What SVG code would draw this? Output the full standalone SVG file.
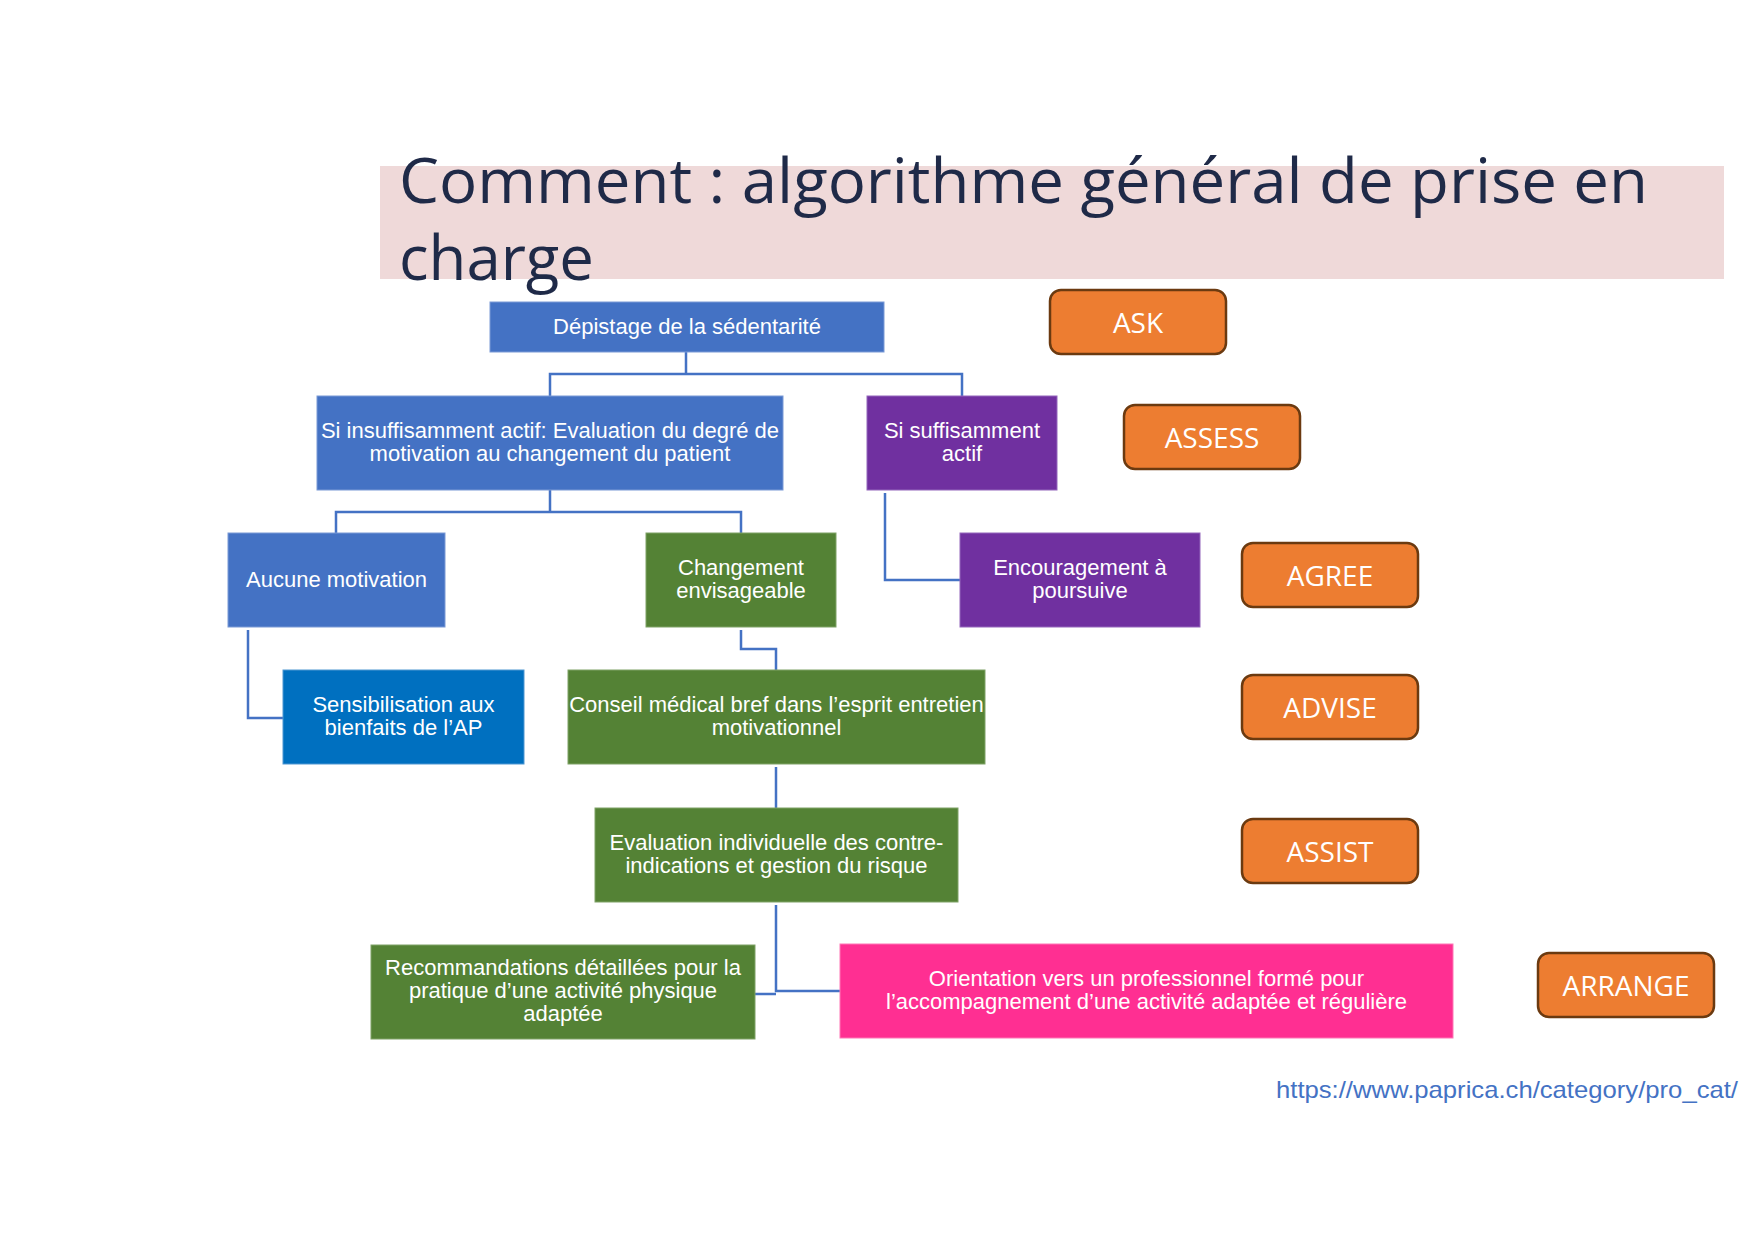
<svg xmlns="http://www.w3.org/2000/svg" width="1754" height="1241" viewBox="0 0 1754 1241">
<style>
.box text{font-family:"Liberation Sans",Arial,sans-serif;font-size:22px;fill:#fff;text-anchor:middle}
.blue{fill:#4472C4;stroke:#7A9AD6;stroke-width:1}
.dblue{fill:#0070C0;stroke:#4F97D2;stroke-width:1}
.green{fill:#548235;stroke:#7FA267;stroke-width:1}
.purple{fill:#7030A0;stroke:#9466BC;stroke-width:1}
.pink{fill:#FF2F92;stroke:#FF77B6;stroke-width:1}
.tag rect{fill:#ED7D31;stroke:#6B3A10;stroke-width:2.5}
.tag text{font-family:"Open Sans","Noto Sans",sans-serif;font-size:28px;fill:#fff;text-anchor:middle}
.conn path{fill:none;stroke:#4472C4;stroke-width:2.5}
.ttl{font-family:"Open Sans","Noto Sans",sans-serif;font-size:63px;fill:#1F2A48}
</style>
<rect width="1754" height="1241" fill="#fff"/>
<g id="title">
<rect x="380" y="166" width="1344" height="113" fill="#EFD9D9"/>
<text class="ttl" x="399" y="203" textLength="1249" lengthAdjust="spacingAndGlyphs">Comment : algorithme général de prise en</text>
<text class="ttl" x="399" y="280" textLength="195" lengthAdjust="spacingAndGlyphs">charge</text>
</g>
<g class="conn" id="connectors">
<path d="M686 352 V374 M550 396 V374 H962 V396"/>
<path d="M550 490 V512 M336 533 V512 H741 V533"/>
<path d="M885 493 V580 H960"/>
<path d="M248 630 V718 H283"/>
<path d="M741 630 V649 H776 V670"/>
<path d="M776 767 V808"/>
<path d="M776 905 V991 H840 M776 994 H755"/>
</g>
<g class="box" id="depistage"><rect class="blue" x="490" y="302" width="394" height="50"/><text x="687" y="334">Dépistage de la sédentarité</text></g>
<g class="box" id="insuffisant"><rect class="blue" x="317" y="396" width="466" height="94"/><text x="550" y="438">Si insuffisamment actif: Evaluation du degré de</text><text x="550" y="461">motivation au changement du patient</text></g>
<g class="box" id="suffisant"><rect class="purple" x="867" y="396" width="190" height="94"/><text x="962" y="438">Si suffisamment</text><text x="962" y="461">actif</text></g>
<g class="box" id="aucune"><rect class="blue" x="228" y="533" width="217" height="94"/><text x="336.5" y="587">Aucune motivation</text></g>
<g class="box" id="changement"><rect class="green" x="646" y="533" width="190" height="94"/><text x="741" y="575">Changement</text><text x="741" y="598">envisageable</text></g>
<g class="box" id="encouragement"><rect class="purple" x="960" y="533" width="240" height="94"/><text x="1080" y="575">Encouragement à</text><text x="1080" y="598">poursuive</text></g>
<g class="box" id="sensibilisation"><rect class="dblue" x="283" y="670" width="241" height="94"/><text x="403.5" y="712">Sensibilisation aux</text><text x="403.5" y="735">bienfaits de l’AP</text></g>
<g class="box" id="conseil"><rect class="green" x="568" y="670" width="417" height="94"/><text x="776.5" y="712">Conseil médical bref dans l’esprit entretien</text><text x="776.5" y="735">motivationnel</text></g>
<g class="box" id="evaluation"><rect class="green" x="595" y="808" width="363" height="94"/><text x="776.5" y="850">Evaluation individuelle des contre-</text><text x="776.5" y="873">indications et gestion du risque</text></g>
<g class="box" id="recommandations"><rect class="green" x="371" y="945" width="384" height="94"/><text x="563" y="975">Recommandations détaillées pour la</text><text x="563" y="998">pratique d’une activité physique</text><text x="563" y="1021">adaptée</text></g>
<g class="box" id="orientation"><rect class="pink" x="840" y="944" width="613" height="94"/><text x="1146.5" y="986">Orientation vers un professionnel formé pour</text><text x="1146.5" y="1009">l’accompagnement d’une activité adaptée et régulière</text></g>
<g class="tag" id="ask"><rect x="1050" y="290" width="176" height="64" rx="11"/><text x="1138" y="333">ASK</text></g>
<g class="tag" id="assess"><rect x="1124" y="405" width="176" height="64" rx="11"/><text x="1212" y="448">ASSESS</text></g>
<g class="tag" id="agree"><rect x="1242" y="543" width="176" height="64" rx="11"/><text x="1330" y="586">AGREE</text></g>
<g class="tag" id="advise"><rect x="1242" y="675" width="176" height="64" rx="11"/><text x="1330" y="718">ADVISE</text></g>
<g class="tag" id="assist"><rect x="1242" y="819" width="176" height="64" rx="11"/><text x="1330" y="862">ASSIST</text></g>
<g class="tag" id="arrange"><rect x="1538" y="953" width="176" height="64" rx="11"/><text x="1626" y="996">ARRANGE</text></g>
<text x="1276" y="1098" font-family="'Liberation Sans',Arial,sans-serif" font-size="24" fill="#4472C4" textLength="462" lengthAdjust="spacingAndGlyphs">https://www.paprica.ch/category/pro_cat/</text>
</svg>
